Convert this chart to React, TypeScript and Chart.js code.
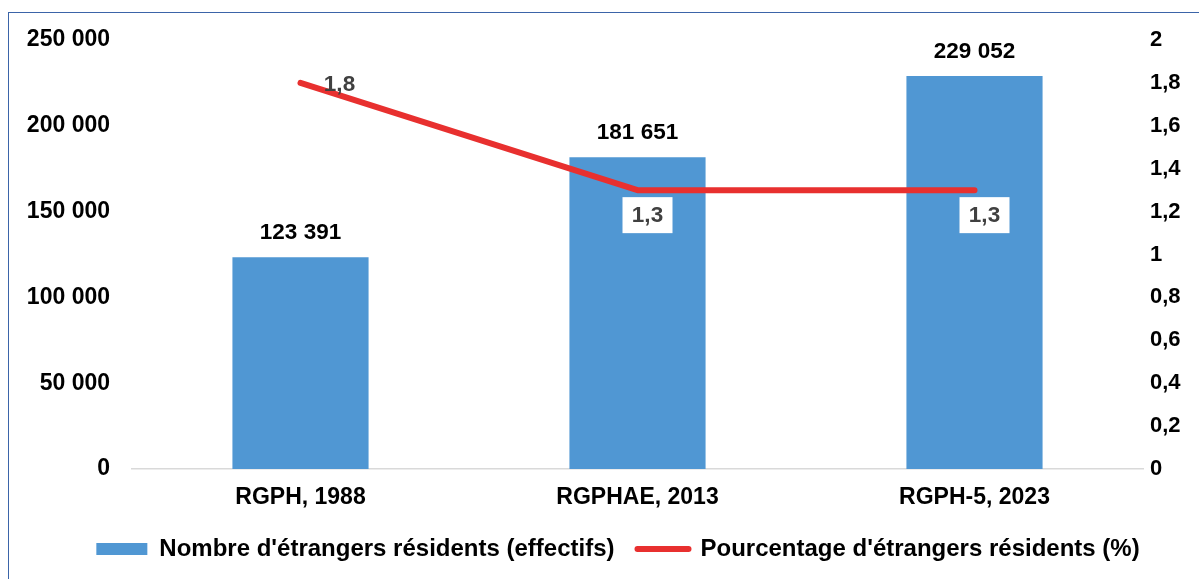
import React, { useEffect, useRef } from "react";
import { Chart, registerables } from "chart.js";

Chart.register(...registerables);

const categories = ["RGPH, 1988", "RGPHAE, 2013", "RGPH-5, 2023"];
const residentsCount = [123391, 181651, 229052];
const residentsPercent = [1.8, 1.3, 1.3];
const seriesNames = [
  "Nombre d'étrangers résidents (effectifs)",
  "Pourcentage d'étrangers résidents (%)",
];

const BLUE = "#5097d3";
const RED = "#e8302f";
const FONT = "'Liberation Sans', Arial, sans-serif";

const fmtThousands = (v: number) =>
  String(Math.round(v)).replace(/\B(?=(\d{3})+(?!\d))/g, " ");
const fmtComma = (v: number) => String(Math.round(v * 10) / 10).replace(".", ",");

const labelsPlugin = {
  id: "valueLabels",
  afterDatasetsDraw(chart: any) {
    const ctx = chart.ctx;
    ctx.save();
    // bar labels
    const barMeta = chart.getDatasetMeta(0);
    ctx.font = `bold 22.5px ${FONT}`;
    ctx.fillStyle = "#000";
    ctx.textAlign = "center";
    ctx.textBaseline = "middle";
    barMeta.data.forEach((el: any, i: number) => {
      ctx.fillText(fmtThousands(residentsCount[i]), el.x, el.y - 24);
    });
    // line labels
    const lineMeta = chart.getDatasetMeta(1);
    lineMeta.data.forEach((el: any, i: number) => {
      const txt = fmtComma(residentsPercent[i]);
      const first = i === 0;
      const cx = first ? el.x + 39 : el.x + 10;
      const cy = first ? el.y + 1 : el.y + 25;
      ctx.font = `bold 22.5px ${FONT}`;
      if (!first) {
        ctx.fillStyle = "#fff";
        ctx.fillRect(cx - 25, cy - 18, 50, 36);
      }
      ctx.fillStyle = "#404040";
      ctx.textAlign = "center";
      ctx.textBaseline = "middle";
      ctx.fillText(txt, cx, cy + 1);
    });
    ctx.restore();
  },
};

// the reference legend sits a little right of centre
const legendShift = {
  id: "legendShift",
  afterLayout(chart: any) {
    const lg = chart.legend;
    if (lg) {
      lg.left += 18.5;
      lg.right += 18.5;
    }
  },
};

export default function App() {
  const ref = useRef<HTMLCanvasElement | null>(null);

  useEffect(() => {
    if (!ref.current) return;
    const chart = new Chart(ref.current, {
      type: "bar",
      data: {
        labels: categories,
        datasets: [
          {
            type: "bar",
            label: seriesNames[0],
            data: residentsCount,
            backgroundColor: BLUE,
            yAxisID: "y",
            barPercentage: 0.404,
            categoryPercentage: 1,
            order: 2,
          },
          {
            type: "line",
            label: seriesNames[1],
            data: residentsPercent,
            borderColor: RED,
            backgroundColor: RED,
            borderWidth: 6,
            borderCapStyle: "round",
            borderJoinStyle: "round",
            pointRadius: 0,
            yAxisID: "y1",
            order: 1,
          },
        ] as any,
      },
      options: {
        animation: false,
        responsive: true,
        maintainAspectRatio: false,
        layout: { padding: { top: 40, left: 0, right: 0, bottom: 8 } },
        plugins: {
          tooltip: { enabled: false },
          legend: {
            position: "bottom",
            labels: {
              color: "#000",
              font: { family: FONT, size: 24, weight: "bold" },
              usePointStyle: true,
              pointStyleWidth: 51,
              boxHeight: 12,
              padding: 23,
              generateLabels: () => [
                {
                  text: seriesNames[0],
                  fillStyle: BLUE,
                  strokeStyle: BLUE,
                  lineWidth: 0,
                  pointStyle: "rect",
                  datasetIndex: 0,
                  hidden: false,
                },
                {
                  text: seriesNames[1],
                  fillStyle: RED,
                  strokeStyle: RED,
                  lineWidth: 6,
                  lineCap: "round",
                  pointStyle: "line",
                  datasetIndex: 1,
                  hidden: false,
                },
              ],
            },
          },
        },
        scales: {
          x: {
            grid: { display: false, drawTicks: false },
            border: { display: true, color: "#d9d9d9", width: 1.5 },
            ticks: {
              color: "#000",
              font: { family: FONT, size: 23, weight: "bold" },
              padding: 15,
            },
            afterFit: (s: any) => {
              s.height = 45;
            },
          },
          y: {
            position: "left",
            min: 0,
            max: 250000,
            grid: { display: false, drawTicks: false },
            border: { display: false },
            ticks: {
              stepSize: 50000,
              color: "#000",
              font: { family: FONT, size: 23, weight: "bold" },
              padding: 22,
              callback: (v: any) => fmtThousands(Number(v)),
            },
            afterFit: (s: any) => {
              s.width = 132;
            },
          },
          y1: {
            position: "right",
            min: 0,
            max: 2,
            grid: { display: false, drawTicks: false },
            border: { display: false },
            ticks: {
              stepSize: 0.2,
              color: "#000",
              font: { family: FONT, size: 22, weight: "bold" },
              padding: 7,
              callback: (v: any) => fmtComma(Number(v)),
            },
            afterFit: (s: any) => {
              s.width = 56;
            },
          },
        },
      } as any,
      plugins: [labelsPlugin, legendShift],
    });
    return () => chart.destroy();
  }, []);

  return (
    <div
      style={{
        position: "fixed",
        left: 0,
        top: 0,
        width: 1199,
        height: 579,
        background: "#fff",
        overflow: "hidden",
      }}
    >
      <div
        style={{
          position: "absolute",
          left: 8,
          top: 12,
          width: 1300,
          height: 700,
          borderLeft: "1.5px solid #3b64a8",
          borderTop: "1.5px solid #3b64a8",
        }}
      />
      <canvas ref={ref} style={{ position: "absolute", left: 0, top: 0 }} />
    </div>
  );
}
